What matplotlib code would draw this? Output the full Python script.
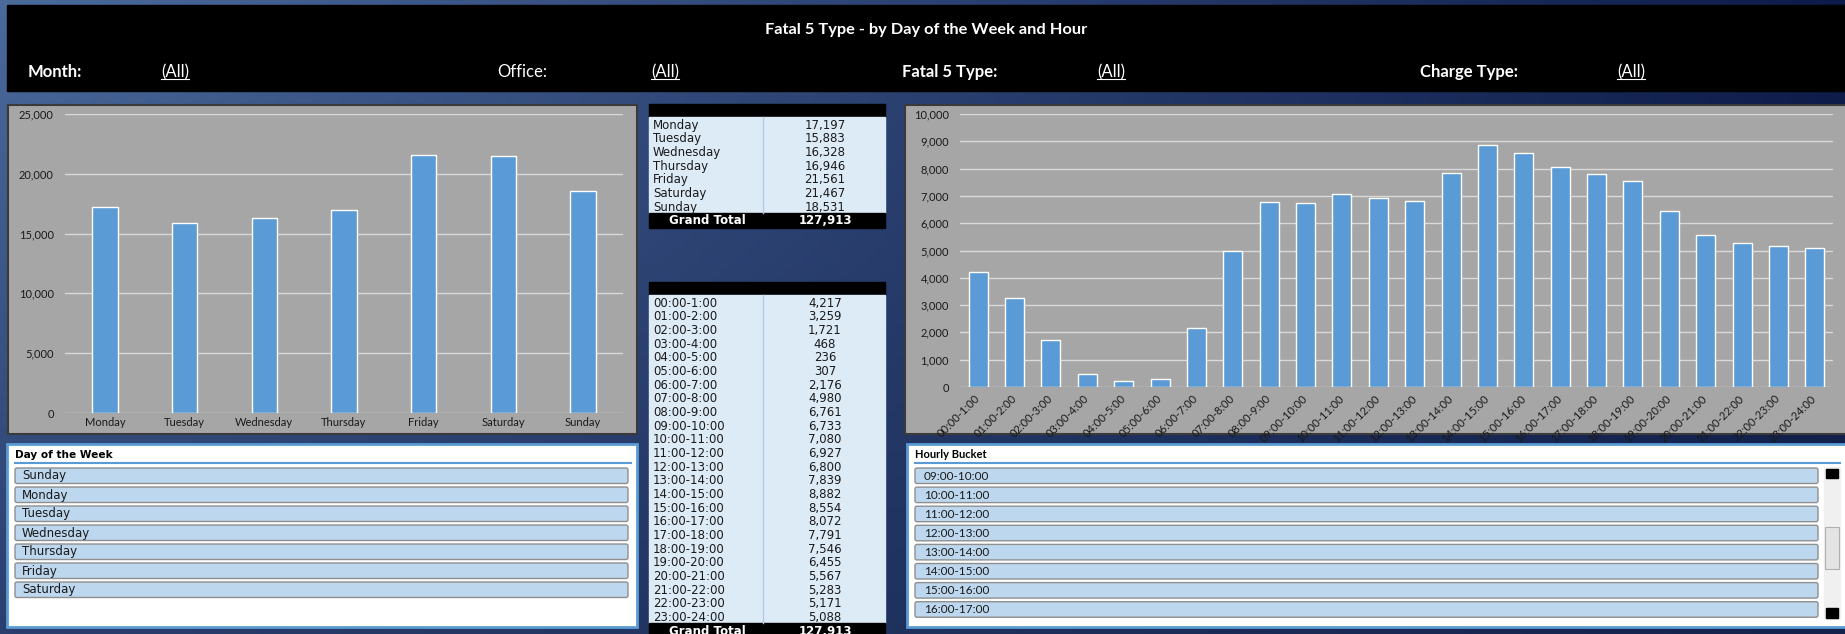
import numpy as np
import matplotlib
matplotlib.use("Agg")
import matplotlib.pyplot as plt
from matplotlib.patches import Rectangle, FancyBboxPatch
from matplotlib.ticker import FuncFormatter, MultipleLocator

# data
days = ["Monday", "Tuesday", "Wednesday", "Thursday", "Friday", "Saturday", "Sunday"]
day_counts = [17197, 15883, 16328, 16946, 21561, 21467, 18531]

hours = ["00:00-1:00", "01:00-2:00", "02:00-3:00", "03:00-4:00", "04:00-5:00",
         "05:00-6:00", "06:00-7:00", "07:00-8:00", "08:00-9:00", "09:00-10:00",
         "10:00-11:00", "11:00-12:00", "12:00-13:00", "13:00-14:00", "14:00-15:00",
         "15:00-16:00", "16:00-17:00", "17:00-18:00", "18:00-19:00", "19:00-20:00",
         "20:00-21:00", "21:00-22:00", "22:00-23:00", "23:00-24:00"]
hour_counts = [4217, 3259, 1721, 468, 236, 307, 2176, 4980, 6761, 6733, 7080, 6927,
               6800, 7839, 8882, 8554, 8072, 7791, 7546, 6455, 5567, 5283, 5171, 5088]

slicer_days = ["Sunday", "Monday", "Tuesday", "Wednesday", "Thursday", "Friday", "Saturday"]
slicer_hours = ["09:00-10:00", "10:00-11:00", "11:00-12:00", "12:00-13:00",
                "13:00-14:00", "14:00-15:00", "15:00-16:00", "16:00-17:00"]

title = "Fatal 5 Type - by Day of the Week and Hour"
filter_names = ["Month", "Office", "Fatal 5 Type", "Charge Type"]
filter_values = ["(All)", "(All)", "(All)", "(All)"]

W, H = 1845, 634
BAR = "#5B9BD5"
GRAY = "#A6A6A6"
TABLE_BG = "#DDEBF7"
ITEM_BG = "#BDD7EE"
CALIBRI = "Lato"
VERDANA = "DejaVu Sans"

fig = plt.figure(figsize=(W / 100, H / 100), dpi=100)

# canvas in pixel coords for the dashboard furniture
cv = fig.add_axes([0, 0, 1, 1])
cv.set_xlim(0, W)
cv.set_ylim(H, 0)
cv.axis("off")

# blue gradient background
tl = np.array([74, 106, 156]) / 255
tr = np.array([13, 27, 74]) / 255
bl = np.array([42, 63, 110]) / 255
br = np.array([20, 34, 76]) / 255
u = np.linspace(0, 1, 200)[None, :, None]
v = np.linspace(0, 1, 80)[:, None, None]
grad = (1 - u) * (1 - v) * tl + u * (1 - v) * tr + (1 - u) * v * bl + u * v * br
cv.imshow(grad, extent=[0, W, H, 0], aspect="auto", zorder=0)

# header
cv.add_patch(Rectangle((7, 5), W, 86, color="black", zorder=1))
cv.text(926, 30, title, color="white", fontsize=11.8, fontweight="bold",
        family=CALIBRI, ha="center", va="center", zorder=2)

name_x = [28, 497, 902, 1420]
value_x = [161, 651, 1097, 1617]
bold_names = [True, False, True, True]
under = []
for nm, vl, nx, vx, b in zip(filter_names, filter_values, name_x, value_x, bold_names):
    cv.text(nx, 72, nm + ":", color="white", fontsize=12, family=CALIBRI,
            fontweight="bold" if b else "normal", ha="left", va="center", zorder=2)
    t = cv.text(vx, 72, vl, color="white", fontsize=12, family=CALIBRI,
                ha="left", va="center", zorder=2)
    under.append(t)


def fig_rect(x0, y0, x1, y1):
    return [x0 / W, 1 - y1 / H, (x1 - x0) / W, (y1 - y0) / H]


def style_chart(ax, fs):
    ax.set_facecolor(GRAY)
    for s in ax.spines.values():
        s.set_visible(False)
    ax.grid(axis="y", color="#D9D9D9", linewidth=1)
    ax.set_axisbelow(True)
    ax.tick_params(length=0, labelsize=fs, colors="#1a1a1a")
    ax.yaxis.set_major_formatter(FuncFormatter(lambda v, p: f"{int(v):,}"))
    for lb in ax.get_yticklabels():
        lb.set_family(CALIBRI)


# left chart: day of week
cv.add_patch(Rectangle((8, 105), 629, 329, facecolor=GRAY, edgecolor="#3a3a3a",
                       linewidth=1.5, zorder=1))
ax1 = fig.add_axes(fig_rect(65, 114, 623, 413))
ax1.bar(range(len(days)), day_counts, width=0.32, color=BAR, edgecolor="white",
        linewidth=1, zorder=3)
ax1.set_xlim(-0.5, len(days) - 0.5)
ax1.set_ylim(0, 25000)
ax1.yaxis.set_major_locator(MultipleLocator(5000))
ax1.set_xticks(range(len(days)))
ax1.set_xticklabels(days, family=CALIBRI, fontsize=7.5)
style_chart(ax1, 8)
ax1.tick_params(axis="x", pad=3)
ax1.tick_params(axis="y", pad=8)

# right chart: hourly
cv.add_patch(Rectangle((905, 105), 945, 329, facecolor=GRAY, edgecolor="#3a3a3a",
                       linewidth=1.5, zorder=1))
ax2 = fig.add_axes(fig_rect(960, 114, 1833, 387))
ax2.bar(range(len(hours)), hour_counts, width=0.52, color=BAR, edgecolor="white",
        linewidth=1, zorder=3)
ax2.set_xlim(-0.5, len(hours) - 0.5)
ax2.set_ylim(0, 10000)
ax2.yaxis.set_major_locator(MultipleLocator(1000))
ax2.set_xticks(range(len(hours)))
ax2.set_xticklabels(hours, rotation=45, ha="right", va="center", rotation_mode="anchor",
                    family=CALIBRI, fontsize=6)
style_chart(ax2, 8)
ax2.tick_params(axis="x", pad=7)
ax2.tick_params(axis="y", pad=8)


# pivot tables
def pivot(top, labels, values, pitch=13.67):
    x0, x1, xd = 649, 885, 763
    cv.add_patch(Rectangle((x0, top), x1 - x0, 13, color="black", zorder=1))
    body = top + 13
    n = len(labels)
    cv.add_patch(Rectangle((x0, body), x1 - x0, n * pitch, color=TABLE_BG, zorder=1))
    cv.plot([xd, xd], [body, body + n * pitch], color="#B4C9E2", lw=1, zorder=2)
    for i, (lb, vl) in enumerate(zip(labels, values)):
        y = body + pitch * (i + 0.6)
        cv.text(653, y, lb, fontsize=8.5, family=VERDANA, color="#1a1a1a",
                ha="left", va="center", zorder=3)
        cv.text(825, y, f"{vl:,}", fontsize=8.5, family=VERDANA, color="#1a1a1a",
                ha="center", va="center", zorder=3)
    gt = body + n * pitch
    cv.add_patch(Rectangle((x0, gt), x1 - x0, 15, color="black", zorder=1))
    cv.text(707, gt + 8, "Grand Total", fontsize=8.5, family=VERDANA, color="white",
            fontweight="bold", ha="center", va="center", zorder=3)
    cv.text(825, gt + 8, f"{sum(values):,}", fontsize=8.5, family=VERDANA,
            color="white", fontweight="bold", ha="center", va="center", zorder=3)


pivot(104, days, day_counts)
pivot(282, hours, hour_counts)


# slicers
def slicer(x0, x1, title_txt, items, title_font, title_fs, item_font, item_fs,
           text_dx, box_x1, pitch):
    cv.add_patch(Rectangle((x0, 444), x1 - x0, 183, facecolor="white",
                           edgecolor=BAR, linewidth=2, zorder=1))
    cv.text(x0 + 8, 455, title_txt, fontsize=title_fs, family=title_font,
            fontweight="bold", color="black", ha="left", va="center", zorder=3)
    cv.plot([x0 + 8, min(x1 - 6, 1840)], [463, 463], color=BAR, lw=1.5, zorder=2)
    for i, it in enumerate(items):
        y = 468 + pitch * i
        cv.add_patch(FancyBboxPatch((x0 + 8, y), box_x1 - x0 - 8, 15.5,
                                    boxstyle="round,pad=0,rounding_size=2",
                                    facecolor=ITEM_BG, edgecolor="#8f8f8f",
                                    linewidth=1, zorder=2))
        cv.text(x0 + text_dx, y + 8, it, fontsize=item_fs, family=item_font,
                color="#1a1a1a", ha="left", va="center", zorder=3)


slicer(7, 637, "Day of the Week", slicer_days, VERDANA, 7.6, VERDANA, 8.5, 15, 628, 19.0)
slicer(907, 1852, "Hourly Bucket", slicer_hours, CALIBRI, 8, CALIBRI, 8.5, 17, 1818, 19.1)

# scrollbar on the hourly slicer
cv.add_patch(Rectangle((1824, 467), 16, 152, color="#F0F0F0", zorder=2))
cv.add_patch(Rectangle((1826, 469), 12, 9, color="black", zorder=3))
cv.add_patch(Rectangle((1826, 608), 12, 10, color="black", zorder=3))
cv.add_patch(Rectangle((1825, 527), 14, 42, facecolor="#E4E4E4", edgecolor="#B0B0B0",
                       lw=0.8, zorder=3))

# underline the (All) values
fig.canvas.draw()
inv = cv.transData.inverted()
for t in under:
    bb = t.get_window_extent()
    (xa, ya), (xb, yb) = inv.transform([(bb.x0, bb.y0), (bb.x1, bb.y1)])
    cv.plot([xa, xb], [ya - 1, ya - 1], color="white", lw=0.8, zorder=2)

fig.savefig("out.png", dpi=100)
